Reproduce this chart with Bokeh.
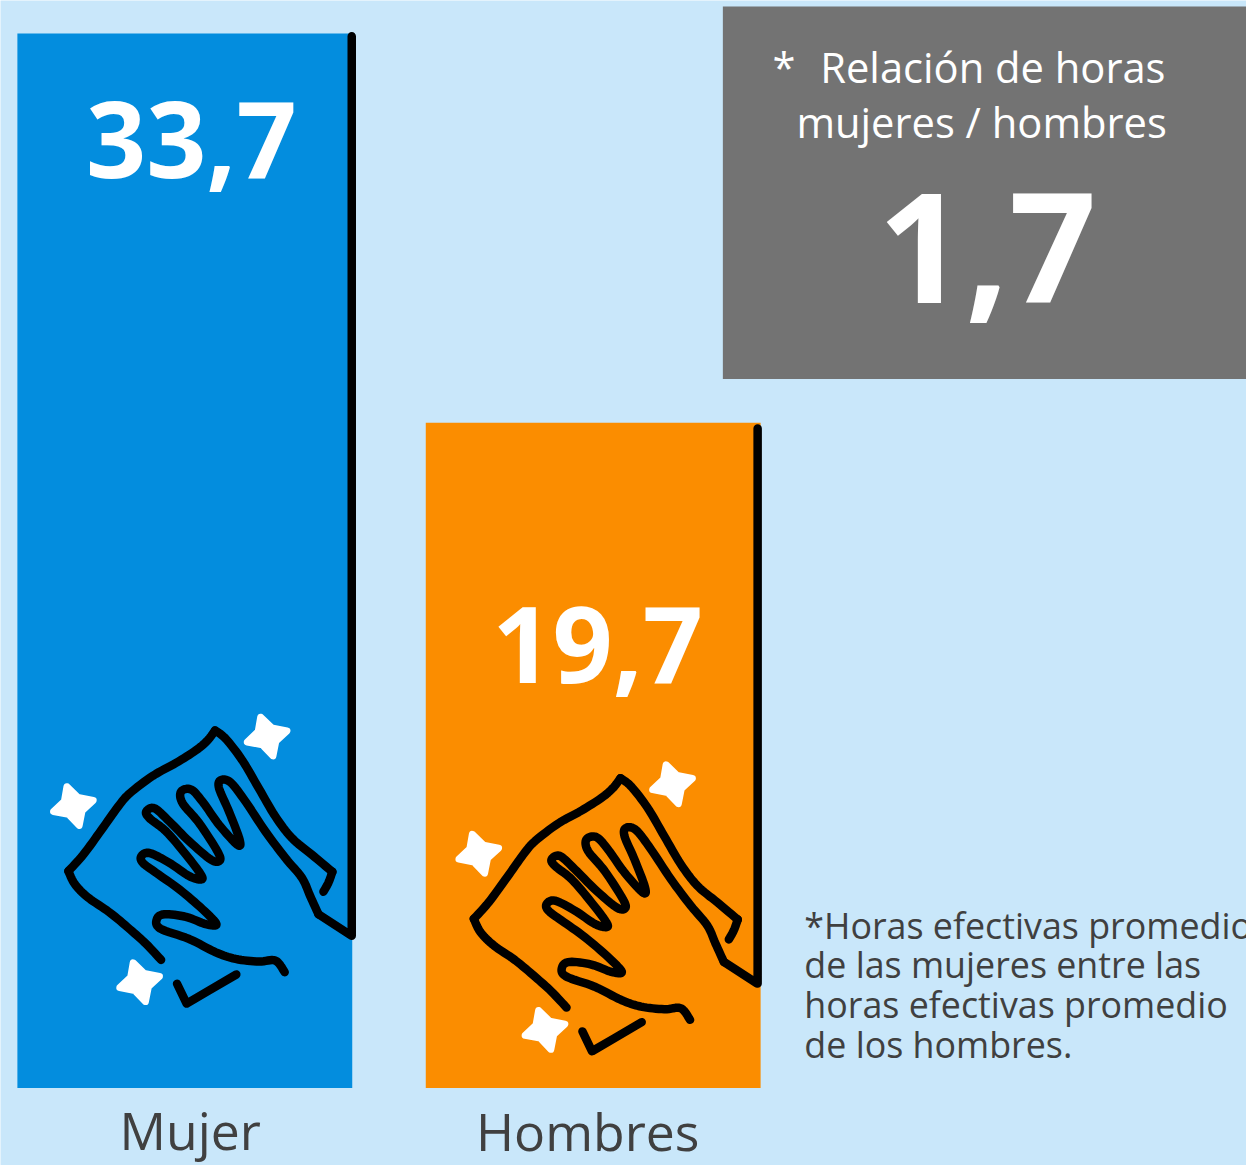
from bokeh.plotting import figure
from bokeh.embed import file_html
from bokeh.resources import INLINE
from bokeh.core.properties import value
from bokeh.models import Range1d

# --- data
categories = ["Mujer", "Hombres"]
value_labels = ["33,7", "19,7"]
bar_heights = [33.7, 21.26]   # drawn heights as pictured (the source bars are not to label scale)
bar_colors = ["#038DDE", "#FB8D00"]
ratio_label = "1,7"
ratio_title = ["*", "Relación de horas", "mujeres / hombres"]
note_lines = ["*Horas efectivas promedio", "de las mujeres entre las",
              "horas efectivas promedio", "de los hombres."]

# --- layout helpers (reference pixels -> data)
PX_PER_UNIT = 31.51
BASE_PX = 1095
FONT = value("Open Sans")
W, H = 1246, 1165
SCALE = W / 1254
def vy(px):
    return (BASE_PX - px) / PX_PER_UNIT

BAR_W = 337
bar_centers = [17 + BAR_W / 2, 428 + BAR_W / 2]

p = figure(width=W, height=H, output_backend="svg", toolbar_location=None,
           x_range=Range1d(0, 1254), y_range=Range1d(vy(1173), vy(0)),
           min_border=0, background_fill_color="#C9E7FA", border_fill_color="#C9E7FA",
           outline_line_color=None)
p.axis.visible = False
p.grid.visible = False

p.vbar(x=bar_centers, top=bar_heights, bottom=0, width=BAR_W, fill_color=bar_colors, line_color=None)

# grey box
p.quad(left=[727], right=[1260], top=[vy(6)], bottom=[vy(381)], fill_color="#737373", line_color=None)

# --- icon (zoom-crop coordinates, 3x, relative to a crop origin); split at sharp corners
cloth_low = [(395,798),(350,750),(300,705),(240,655),(175,610),(135,570),(115,530)]
cloth_top = [(115,530),(160,480),(215,405),(265,335),(300,295),(370,242),(440,203),(500,165),(535,135),(558,105)]
cloth_right = [(558,105),(590,130),(640,195),(690,280),(740,365),(790,430),(850,480),(912,532)]
cloth_tail = [(912,532),(900,565),(885,592)]
hand = [(768,835),(740,800),(690,803),(620,795),(560,775),(480,735),(392,703),(382,675),(405,660),(470,668),
        (530,690),(562,690),(520,645),(450,585),(380,535),(340,505),(335,485),(360,475),(420,505),(480,545),
        (515,555),(515,540),(470,480),(410,410),(360,370),(350,350),(375,340),(420,380),(480,440),(545,495),
        (572,498),(565,470),(510,385),(460,325),(455,290),(485,283),(520,320),(570,390),(625,450),(632,435),
        (600,350),(570,280),(575,255),(605,262),(650,320),(710,410),(770,490),(820,550),(845,605),(870,660)]
check = [(443,870),(472,930),(540,890),(622,842)]
star_tips = [(-22,-65),(68,-18),(20,68),(-68,20)]
star_centers = [(715,122),(130,332),(330,864)]

def smooth(pts, n=8):
    out = []
    P = [pts[0]] + list(pts) + [pts[-1]]
    for i in range(1, len(P) - 2):
        p0, p1, p2, p3 = P[i-1], P[i], P[i+1], P[i+2]
        for k in range(n):
            t = k / n
            out.append(tuple(0.5 * (2*p1[j] + (p2[j]-p0[j])*t + (2*p0[j]-5*p1[j]+4*p2[j]-p3[j])*t*t
                                    + (3*p1[j]-p0[j]-3*p2[j]+p3[j])*t**3) for j in (0, 1)))
    out.append(pts[-1])
    return out

def draw_icon(ox, oy, edge_x, edge_top):
    def X(x): return ox + x / 3
    def Y(y): return vy(oy + y / 3)
    for path in (cloth_low, cloth_top, cloth_right, cloth_tail, hand):
        pts = smooth(path)
        p.line([X(a) for a, _ in pts], [Y(b) for _, b in pts], line_color="black",
               line_width=8.5, line_cap="round", line_join="round")
    p.line([X(a) for a, _ in check], [Y(b) for _, b in check], line_color="black",
           line_width=8.5, line_cap="round", line_join="round")
    # right-hand edge of the cloth
    p.line([X(870), X(970), edge_x, edge_x], [Y(660), Y(725), Y(725), vy(edge_top)], line_color="black", line_width=8.5,
           line_cap="round", line_join="round")
    for cx, cy in star_centers:
        xs, ys = [], []
        for i, (tx, ty) in enumerate(star_tips):
            nx, ny = star_tips[(i + 1) % 4]
            xs += [X(cx + tx * 0.88), X(cx + (tx + nx) * 0.3)]
            ys += [Y(cy + ty * 0.88), Y(cy + (ty + ny) * 0.3)]
        p.patch(xs, ys, fill_color="white", line_color="white", line_width=7, line_join="round")

draw_icon(30, 700, 353.5, 36)
draw_icon(438, 748, 762, 431)

# --- texts (Bokeh's SVG alphabetic baseline sits about 0.35 em low; compensate)
def txt(x, px, s, size, color, align="center", weight="normal"):
    p.text([x], [vy(px - 0.35 * size)], text=[s], text_font=FONT, text_font_size=f"{size * SCALE:.1f}px",
           text_color=color, text_align=align, text_baseline="alphabetic", text_font_style=weight)

txt(192, 178, value_labels[0], 106, "white", weight="bold")
txt(601, 686, value_labels[1], 106, "white", weight="bold")
txt(191, 1155, categories[0], 52, "#404040")
txt(591, 1156, categories[1], 52, "#404040")
txt(777, 81, ratio_title[0], 42, "white", align="left")
txt(825, 81, ratio_title[1], 42, "white", align="left")
txt(801, 137, ratio_title[2], 42, "white", align="left")
txt(993, 303, ratio_label, 154, "white", weight="bold")
for i, line in enumerate(note_lines):
    txt(809, 943 + 40 * i, line, 36, "#404040", align="left")

open("out.html", "w").write(file_html(p, INLINE))
